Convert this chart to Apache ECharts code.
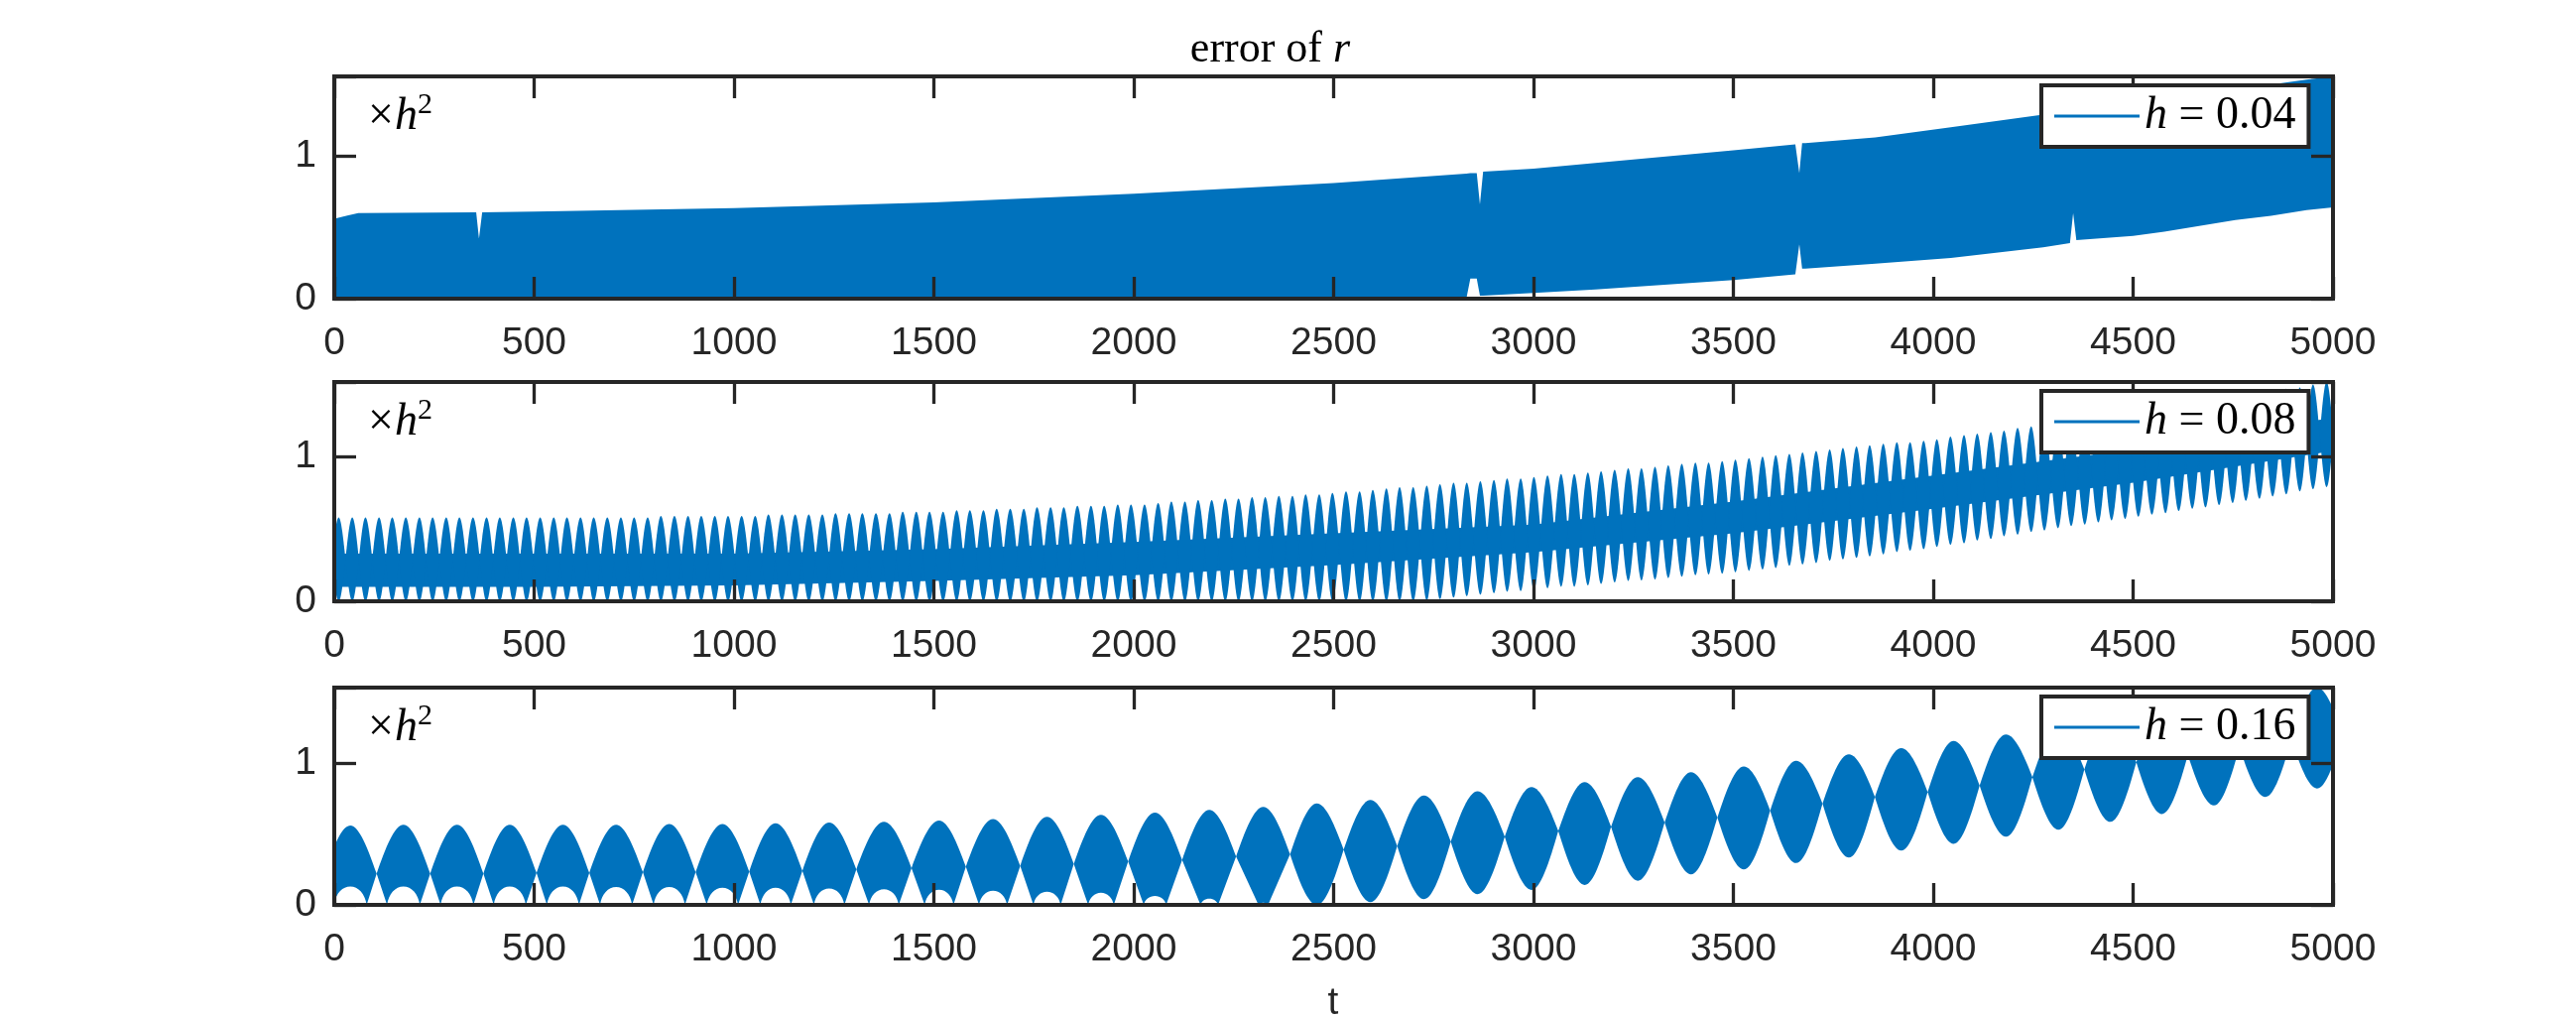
<!DOCTYPE html>
<html><head><meta charset="utf-8">
<script src="https://cdn.jsdelivr.net/npm/echarts@6/dist/echarts.min.js"></script>
<style>html,body{margin:0;padding:0;background:#fff}#c{width:2597px;height:1025px}</style>
</head><body><div id="c"></div>
<script>
// ---------------- data ----------------
const xTicks = [0, 500, 1000, 1500, 2000, 2500, 3000, 3500, 4000, 4500, 5000];
const yTicks = [0, 1];
const yMax = [1.557, 1.517, 1.531];
const legendNames = ['h = 0.04', 'h = 0.08', 'h = 0.16'];

// h = 0.04 : envelope of the dense oscillation
const p1T     = [0, 30, 60, 355, 362, 370, 500, 1000, 1500, 2000, 2500, 2832, 2842, 2858, 2866, 2874, 3000, 3155, 3500, 3655, 3665, 3672, 3680, 3855, 4044, 4275, 4342, 4350, 4358, 4500, 4578, 4756, 4845, 4934, 5000];
const p1Upper = [0.56, 0.58, 0.60, 0.605, 0.42, 0.605, 0.61, 0.635, 0.675, 0.735, 0.81, 0.875, 0.88, 0.88, 0.66, 0.89, 0.91, 0.95, 1.04, 1.08, 0.88, 1.09, 1.09, 1.13, 1.20, 1.29, 1.31, 1.31, 1.32, 1.36, 1.39, 1.46, 1.50, 1.535, 1.557];
const p1Lower = [0, 0, 0, 0, 0, 0, 0, 0, 0, 0, 0, 0, 0.14, 0.14, 0.02, 0.02, 0.04, 0.065, 0.13, 0.17, 0.38, 0.21, 0.21, 0.245, 0.285, 0.36, 0.39, 0.60, 0.41, 0.44, 0.47, 0.55, 0.58, 0.62, 0.64];

// h = 0.08 : one lobe per beat cycle (centre time, top, bottom)
const p2T = [11,45,78,112,145, 179,213,246,280,313, 347,381,414,448,481, 515,549,582,616,649,
  683,717,750,784,817, 851,885,918,952,985, 1019,1053,1086,1120,1153, 1187,1221,1254,1288,1321,
  1355,1389,1422,1456,1489, 1523,1557,1590,1624,1657, 1691,1725,1758,1792,1825, 1859,1893,1926,1960,1993,
  2027,2061,2094,2128,2161, 2195,2229,2262,2296,2329, 2363,2397,2430,2464,2497, 2531,2565,2598,2632,2665,
  2699,2733,2766,2800,2833, 2867,2901,2934,2968,3001, 3035,3069,3102,3136,3169, 3203,3237,3270,3304,3337,
  3371,3405,3438,3472,3505, 3539,3573,3606,3640,3673, 3707,3741,3774,3808,3841, 3875,3909,3942,3976,4009,
  4043,4077,4110,4144,4177, 4211,4245,4278,4312,4345, 4379,4413,4446,4480,4513, 4547,4581,4614,4648,4681,
  4715,4749,4782,4816,4849, 4883,4917,4950,4984];
const p2Upper = [0.58,0.58,0.58,0.58,0.58, 0.58,0.58,0.58,0.58,0.58, 0.58,0.58,0.58,0.58,0.58, 0.58,0.58,0.58,0.58,0.58,
  0.58,0.58,0.58,0.58,0.59, 0.59,0.59,0.59,0.59,0.59, 0.59,0.59,0.60,0.60,0.60, 0.60,0.60,0.61,0.61,0.61,
  0.61,0.61,0.62,0.62,0.62, 0.62,0.63,0.63,0.63,0.64, 0.64,0.64,0.65,0.65,0.65, 0.66,0.66,0.66,0.67,0.67,
  0.67,0.68,0.69,0.69,0.70, 0.70,0.71,0.71,0.72,0.72, 0.73,0.73,0.74,0.74,0.75, 0.76,0.76,0.77,0.78,0.79,
  0.79,0.80,0.81,0.82,0.82, 0.83,0.84,0.85,0.85,0.86, 0.87,0.88,0.88,0.89,0.90, 0.91,0.92,0.92,0.93,0.94,
  0.95,0.96,0.96,0.97,0.98, 0.99,1.00,1.01,1.02,1.03, 1.04,1.05,1.06,1.07,1.08, 1.09,1.10,1.10,1.11,1.12,
  1.14,1.15,1.16,1.17,1.18, 1.20,1.21,1.22,1.23,1.24, 1.26,1.27,1.28,1.29,1.31, 1.32,1.34,1.35,1.37,1.38,
  1.40,1.41,1.42,1.44,1.45, 1.47,1.48,1.50,1.517];
const p2Lower = [0,0,0,0,0, 0,0,0,0,0, 0,0,0,0,0, 0,0,0,0,0,
  0,0,0,0,0, 0,0,0,0,0, 0,0,0,0,0, 0,0,0,0,0,
  0,0,0,0,0, 0,0,0,0,0, 0,0,0,0,0, 0,0,0,0,0,
  0,0,0,0,0, 0,0,0,0,0, 0,0,0,0,0, 0,0,0,0,0,
  0,0.005,0.015,0.025,0.035, 0.045,0.055,0.065,0.07,0.08, 0.09,0.10,0.10,0.11,0.12, 0.13,0.14,0.145,0.15,0.16,
  0.17,0.18,0.185,0.19,0.20, 0.21,0.22,0.23,0.245,0.255, 0.265,0.28,0.29,0.30,0.31, 0.325,0.34,0.35,0.36,0.375,
  0.39,0.40,0.42,0.43,0.45, 0.46,0.48,0.49,0.505,0.52, 0.53,0.545,0.56,0.57,0.585, 0.60,0.61,0.625,0.64,0.65,
  0.665,0.68,0.695,0.71,0.725, 0.74,0.76,0.775,0.79];
// solid band between the lobes
const p2BandT  = [0, 500, 1000, 1500, 2000, 2500, 3000, 3500, 4000, 4500, 5000];
const p2BandHi = [0.33, 0.33, 0.33, 0.36, 0.41, 0.47, 0.53, 0.69, 0.87, 1.05, 1.27];
const p2BandLo = [0.10, 0.10, 0.11, 0.14, 0.18, 0.25, 0.34, 0.47, 0.64, 0.82, 1.04];

// h = 0.16 : one lens per beat (centre, top, bottom / arch, zero-touch offset), necks between
const p3T     = [40,173,307,439,572,705,838,971,1104,1238, 1375,1513,1648,1783,1918,2053,2189,2324,2458,2592,
  2726,2860,2995,3128,3261,3394,3526,3657,3789,3920, 4051,4182,4313,4443,4572,4702,4831,4960];
const p3Upper = [0.56,0.565,0.565,0.565,0.565,0.565,0.57,0.57,0.575,0.58, 0.585,0.595,0.605,0.62,0.635,0.65,0.67,0.69,0.715,0.74,
  0.77,0.80,0.83,0.865,0.90,0.935,0.975,1.015,1.06,1.105, 1.155,1.20,1.25,1.30,1.35,1.41,1.47,1.531];
const p3Lower = [0.13,0.13,0.13,0.13,0.13,0.125,0.125,0.12,0.12,0.115, 0.11,0.107,0.10,0.093,0.086,0.063,0.044,0.015,0,0.02,
  0.04,0.075,0.105,0.14,0.17,0.215,0.25,0.295,0.333,0.382, 0.43,0.48,0.53,0.585,0.64,0.70,0.76,0.82];
const p3Touch = [41,41,41,40,40,40,39,39,38,38, 37,36,35,34,32,28,22,12,0,0,
  0,0,0,0,0,0,0,0,0,0, 0,0,0,0,0,0,0,0];
const p3NeckT = [-27,106,240,373,506,638,772,904,1038,1171, 1306,1444,1580,1716,1850,1986,2121,2256,2391,2525,
  2659,2793,2928,3062,3194,3328,3460,3592,3723,3854, 3986,4116,4248,4378,4508,4637,4766,4896,5025];
const p3Neck  = [0.21,0.22,0.22,0.22,0.225,0.225,0.23,0.23,0.235,0.24, 0.25,0.259,0.27,0.275,0.289,0.305,0.317,0.34,0.357,0.39,
  0.415,0.445,0.48,0.52,0.55,0.58,0.615,0.665,0.713,0.76, 0.795,0.84,0.90,0.955,1.005,1.055,1.11,1.165,1.20];

// ---------------- styling / layout ----------------
const BLUE = '#0072BD';
const AX = '#262626';
const GRID_LEFT = 337, GRID_WIDTH = 2015;
const GRID_TOPS = [77, 385, 693];
const GRID_HEIGHTS = [224, 221, 219];
const SERIF = '"Liberation Serif", "DejaVu Serif", serif';
const SANS = '"Liberation Sans", Arial, sans-serif';

function f(v) { return v.toFixed(2); }
function toExtreme(P, Q) {
  const dx = Q[0] - P[0], dy = Q[1] - P[1];
  return ' C' + f(P[0] + 0.333 * dx) + ' ' + f(P[1] + 0.524 * dy) + ' ' + f(P[0] + 0.667 * dx) + ' ' + f(Q[1]) + ' ' + f(Q[0]) + ' ' + f(Q[1]);
}
function fromExtreme(Q, P) {
  const dx = Q[0] - P[0], dy = Q[1] - P[1];
  return ' C' + f(P[0] + 0.667 * dx) + ' ' + f(Q[1]) + ' ' + f(P[0] + 0.333 * dx) + ' ' + f(P[1] + 0.524 * dy) + ' ' + f(P[0]) + ' ' + f(P[1]);
}
function archUp(Z, H) {
  const dx = H[0] - Z[0], dy = H[1] - Z[1];
  return ' C' + f(Z[0] + 0.1 * dx) + ' ' + f(Z[1] + 0.6 * dy) + ' ' + f(Z[0] + 0.5 * dx) + ' ' + f(H[1]) + ' ' + f(H[0]) + ' ' + f(H[1]);
}
function archDown(H, Z) {
  const dx = H[0] - Z[0], dy = H[1] - Z[1];
  return ' C' + f(Z[0] + 0.5 * dx) + ' ' + f(H[1]) + ' ' + f(Z[0] + 0.1 * dx) + ' ' + f(Z[1] + 0.6 * dy) + ' ' + f(Z[0]) + ' ' + f(Z[1]);
}
function lensPath(api, tl, tc, tr, cl, cr, up, lo, touch) {
  const A = api.coord([tl, cl]), K = api.coord([tc, up]), B = api.coord([tr, cr]);
  let d = 'M' + f(A[0]) + ' ' + f(A[1]) + toExtreme(A, K) + fromExtreme(K, B);
  if (touch > 0) {
    const ZR = api.coord([tc + touch, 0]), H = api.coord([tc, lo]), ZL = api.coord([tc - touch, 0]);
    d += ' L' + f(ZR[0]) + ' ' + f(ZR[1]) + archUp(ZR, H) + archDown(H, ZL) + ' L' + f(A[0]) + ' ' + f(A[1]);
  } else {
    const T = api.coord([tc, lo]);
    d += toExtreme(B, T) + fromExtreme(T, A);
  }
  return d + ' Z';
}
function bandPolygon(api, ts, hi, lo) {
  const pts = [];
  for (let j = 0; j < ts.length; j++) pts.push(api.coord([ts[j], hi[j]]));
  for (let j = ts.length - 1; j >= 0; j--) pts.push(api.coord([ts[j], lo[j]]));
  return pts;
}

const xAxes = [], yAxes = [], grids = [];
for (let g = 0; g < 3; g++) {
  grids.push({ left: GRID_LEFT, top: GRID_TOPS[g], width: GRID_WIDTH, height: GRID_HEIGHTS[g], show: false });
  ['bottom', 'top'].forEach(pos => xAxes.push({
    type: 'value', gridIndex: g, position: pos, z: 10,
    min: xTicks[0], max: xTicks[xTicks.length - 1], interval: xTicks[1] - xTicks[0],
    axisLine: { show: true, onZero: false, lineStyle: { color: AX, width: 4, cap: 'square' } },
    axisTick: { show: true, inside: true, length: 22, lineStyle: { color: AX, width: 3.3 } },
    axisLabel: { show: pos === 'bottom', margin: 26, fontSize: 39, fontFamily: SANS, color: AX,
      showMinLabel: true, showMaxLabel: true, formatter: v => String(v) },
    splitLine: { show: false }
  }));
  ['left', 'right'].forEach(pos => yAxes.push({
    type: 'value', gridIndex: g, position: pos, z: 10,
    min: 0, max: yMax[g], interval: 1,
    axisLine: { show: true, onZero: false, lineStyle: { color: AX, width: 4, cap: 'square' } },
    axisTick: { show: true, inside: true, length: 22, lineStyle: { color: AX, width: 3.3 } },
    axisLabel: { show: pos === 'left', margin: 18, fontSize: 39, fontFamily: SANS, color: AX,
      formatter: v => (yTicks.indexOf(v) >= 0 ? String(v) : '') },
    splitLine: { show: false }
  }));
}

const series = [
  { type: 'custom', name: legendNames[0], xAxisIndex: 0, yAxisIndex: 0, clip: true, silent: true,
    itemStyle: { color: BLUE }, data: [[2500, 0.5]], encode: { x: 0, y: 1 },
    renderItem: (params, api) => ({ type: 'polygon', shape: { points: bandPolygon(api, p1T, p1Upper, p1Lower) }, style: { fill: BLUE } }) },
  { type: 'custom', xAxisIndex: 2, yAxisIndex: 2, clip: true, silent: true,
    itemStyle: { color: BLUE }, data: [[2500, 0.5]], encode: { x: 0, y: 1 },
    renderItem: (params, api) => ({ type: 'polygon', shape: { points: bandPolygon(api, p2BandT, p2BandHi, p2BandLo) }, style: { fill: BLUE } }) },
  { type: 'custom', name: legendNames[1], xAxisIndex: 2, yAxisIndex: 2, clip: true, silent: true,
    itemStyle: { color: BLUE }, data: p2T.map((t, i) => [t, p2Upper[i]]), encode: { x: 0, y: 1 },
    renderItem: (params, api) => {
      const i = params.dataIndex, n = p2T.length;
      const tl = i > 0 ? (p2T[i - 1] + p2T[i]) / 2 : p2T[0] - (p2T[1] - p2T[0]) / 2;
      const tr = i < n - 1 ? (p2T[i] + p2T[i + 1]) / 2 : p2T[n - 1] + (p2T[n - 1] - p2T[n - 2]) / 2;
      const c = (p2Upper[i] + p2Lower[i]) / 2;
      return { type: 'path', shape: { pathData: lensPath(api, tl, p2T[i], tr, c, c, p2Upper[i], p2Lower[i], 0) }, style: { fill: BLUE } };
    } },
  { type: 'custom', name: legendNames[2], xAxisIndex: 4, yAxisIndex: 4, clip: true, silent: true,
    itemStyle: { color: BLUE }, data: p3T.map((t, i) => [t, p3Upper[i]]), encode: { x: 0, y: 1 },
    renderItem: (params, api) => {
      const i = params.dataIndex;
      return { type: 'path', shape: { pathData: lensPath(api, p3NeckT[i], p3T[i], p3NeckT[i + 1], p3Neck[i], p3Neck[i + 1], p3Upper[i], p3Lower[i], p3Touch[i]) }, style: { fill: BLUE } };
    } }
];

const legends = legendNames.map((n, g) => ({
  data: [{ name: n, icon: 'rect' }], left: 2058, top: GRID_TOPS[g] + 9, orient: 'horizontal',
  itemWidth: 86, itemHeight: 3, padding: [8, 13, 8, 13], backgroundColor: '#fff',
  borderColor: AX, borderWidth: 4, borderRadius: 0, selectedMode: false, z: 20,
  itemStyle: { color: BLUE, borderWidth: 0 },
  textStyle: { color: '#000', fontFamily: SERIF, fontSize: 46, lineHeight: 46,
    rich: { i: { fontStyle: 'italic', fontFamily: SERIF, fontSize: 46, lineHeight: 46, color: '#000' },
            n: { fontFamily: SERIF, fontSize: 46, lineHeight: 46, color: '#000' } } },
  formatter: name => '{i|' + name.charAt(0) + '}{n|' + name.slice(1) + '}'
}));

const graphic = [
  { type: 'text', x: 1344, y: 50, z: 20, style: { text: 'error of ', font: '44px ' + SERIF, fill: '#000', align: 'right', verticalAlign: 'middle' } },
  { type: 'text', x: 1344, y: 50, z: 20, style: { text: 'r', font: 'italic 44px ' + SERIF, fill: '#000', align: 'left', verticalAlign: 'middle' } },
  { type: 'text', x: 1344, y: 1011, z: 20, style: { text: 't', font: '39px ' + SANS, fill: AX, align: 'center', verticalAlign: 'middle' } }
];
for (let g = 0; g < 3; g++) {
  const top = GRID_TOPS[g];
  graphic.push(
    { type: 'text', x: 371, y: top + 41, z: 20, style: { text: '\u00d7', font: '46px ' + SERIF, fill: '#000', verticalAlign: 'middle' } },
    { type: 'text', x: 398, y: top + 41, z: 20, style: { text: 'h', font: 'italic 46px ' + SERIF, fill: '#000', verticalAlign: 'middle' } },
    { type: 'text', x: 421, y: top + 29, z: 20, style: { text: '2', font: '30px ' + SERIF, fill: '#000', verticalAlign: 'middle' } }
  );
}

const chart = echarts.init(document.getElementById('c'), null, { renderer: 'canvas' });
chart.setOption({
  animation: false,
  backgroundColor: '#fff',
  grid: grids, xAxis: xAxes, yAxis: yAxes,
  legend: legends, graphic: graphic, series: series
});
</script></body></html>
